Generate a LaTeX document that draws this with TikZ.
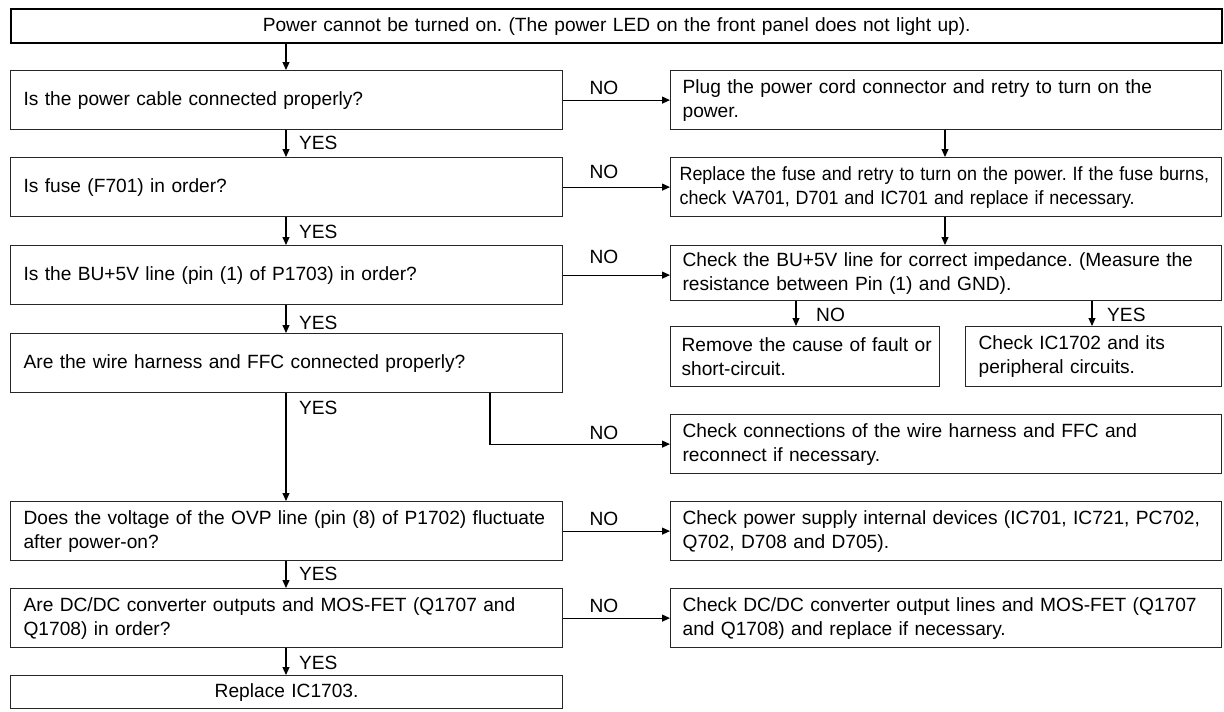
\documentclass[tikz,border=0pt]{standalone}
\usepackage{fontspec}
\setmainfont{Liberation Sans}
\usetikzlibrary{arrows.meta}
\newcommand{\fsz}{\fontsize{19.15pt}{24pt}\selectfont\frenchspacing}
\newcommand{\sqz}[1]{\scalebox{0.935}[1]{#1}}
\begin{document}
\begin{tikzpicture}[x=1pt,y=-1pt,
  box/.style={draw=black!85, line width=1.2pt, rectangle, anchor=north west,
    inner xsep=13pt, inner ysep=0pt, align=left, font=\fsz},
  lbl/.style={font=\fsz, inner sep=0pt},
  arr/.style={line width=1.1pt, -{Triangle[length=8pt,width=7pt]}},
  ln/.style={line width=1.1pt}]
\useasboundingbox (0,0) rectangle (1224,712);

% top
\node[box, line width=2.4pt, draw=black, align=center, text width=1185pt, minimum height=34pt] (top) at (10,8)
  {Power cannot be turned on. (The power LED on the front panel does not light up).};

% left column
\node[box, text width=526pt, minimum height=59pt] (q1) at (10,70) {Is the power cable connected properly?};
\node[box, text width=526pt, minimum height=59pt] (q2) at (10,157) {Is fuse (F701) in order?};
\node[box, text width=526pt, minimum height=59pt] (q3) at (10,245) {Is the BU+5V line (pin (1) of P1703) in order?};
\node[box, text width=526pt, minimum height=59pt] (q4) at (10,333) {Are the wire harness and FFC connected properly?};
\node[box, text width=526pt, minimum height=59pt] (q5) at (10,501) {\mbox{Does the voltage of the OVP line (pin (8) of P1702) fluctuate}\\\mbox{after power-on?}};
\node[box, text width=526pt, minimum height=59pt] (q6) at (10,588) {\mbox{Are DC/DC converter outputs and MOS-FET (Q1707 and}\\\mbox{Q1708) in order?}};
\node[box, align=center, text width=526pt, minimum height=33pt] (end) at (10,675) {Replace IC1703.};

% right column
\node[box, inner xsep=12pt, text width=527pt, minimum height=59pt] (r1) at (670,70) {\mbox{Plug the power cord connector and retry to turn on the}\\\mbox{power.}};
\node[box, inner xsep=9pt, text width=533pt, minimum height=59pt] (r2) at (670,157) {\sqz{Replace the fuse and retry to turn on the power. If the fuse burns,}\\\sqz{check VA701, D701 and IC701 and replace if necessary.}};
\node[box, inner xsep=12pt, text width=527pt, minimum height=55pt] (r3) at (670,245) {\mbox{Check the BU+5V line for correct impedance. (Measure the}\\\mbox{resistance between Pin (1) and GND).}};
\node[box, inner xsep=11pt, text width=247pt, minimum height=60pt] (s1) at (670,326) {\mbox{Remove the cause of fault or}\\\mbox{short-circuit.}};
\node[box, inner xsep=13pt, text width=230pt, minimum height=60pt] (s2) at (965,326) {\mbox{Check IC1702 and its}\\\mbox{peripheral circuits.}};
\node[box, inner xsep=12pt, text width=527pt, minimum height=59pt] (r4) at (670,414) {\mbox{Check connections of the wire harness and FFC and}\\\mbox{reconnect if necessary.}};
\node[box, inner xsep=12pt, text width=527pt, minimum height=59pt] (r5) at (670,501) {\mbox{Check power supply internal devices (IC701, IC721, PC702,}\\\mbox{Q702, D708 and D705).}};
\node[box, inner xsep=12pt, text width=527pt, minimum height=59pt] (r6) at (670,588) {\mbox{Check DC/DC converter output lines and MOS-FET (Q1707}\\\mbox{and Q1708) and replace if necessary.}};

% column coordinates
\coordinate (cL) at (286,0);
\coordinate (cR) at (945,0);
\coordinate (cN) at (796,0);
\coordinate (cY) at (1092,0);
\coordinate (cB) at (490,0);

% main vertical flow
\draw[arr] (top.south -| cL) -- (q1.north -| cL);
\draw[arr] (q1.south -| cL) -- (q2.north -| cL);
\draw[arr] (q2.south -| cL) -- (q3.north -| cL);
\draw[arr] (q3.south -| cL) -- (q4.north -| cL);
\draw[arr] (q4.south -| cL) -- (q5.north -| cL);
\draw[arr] (q5.south -| cL) -- (q6.north -| cL);
\draw[arr] (q6.south -| cL) -- (end.north -| cL);

% NO branches
\draw[arr] (q1.east) -- (q1.east -| r1.west);
\draw[arr] (q2.east) -- (q2.east -| r2.west);
\draw[arr] (q3.east) -- (q3.east -| r3.west);
\draw[arr] (q4.south -| cB) |- (r4.west);
\draw[arr] (q5.east) -- (q5.east -| r5.west);
\draw[arr] (q6.east) -- (q6.east -| r6.west);

% right column flow
\draw[arr] (r1.south -| cR) -- (r2.north -| cR);
\draw[arr] (r2.south -| cR) -- (r3.north -| cR);
\draw[arr] (r3.south -| cN) -- (s1.north -| cN);
\draw[arr] (r3.south -| cY) -- (s2.north -| cY);

% YES labels
\node[lbl, anchor=west] (y1) at (299,143) {YES};
\node[lbl, anchor=west] (y2) at (299,232) {YES};
\node[lbl, anchor=west] (y3) at (299,323) {YES};
\node[lbl, anchor=west] (y4) at (299,408) {YES};
\node[lbl, anchor=west] (y5) at (299,574) {YES};
\node[lbl, anchor=west] (y6) at (299,663) {YES};
% NO labels
\node[lbl] (n1) at (604,88) {NO};
\node[lbl] (n2) at (604,172) {NO};
\node[lbl] (n3) at (604,257) {NO};
\node[lbl] (n4) at (604,433) {NO};
\node[lbl] (n5) at (604,519) {NO};
\node[lbl] (n6) at (604,606) {NO};
% sub labels
\node[lbl, anchor=west] (sn) at (816,315) {NO};
\node[lbl, anchor=west] (sy) at (1107,315) {YES};
\end{tikzpicture}
\end{document}
